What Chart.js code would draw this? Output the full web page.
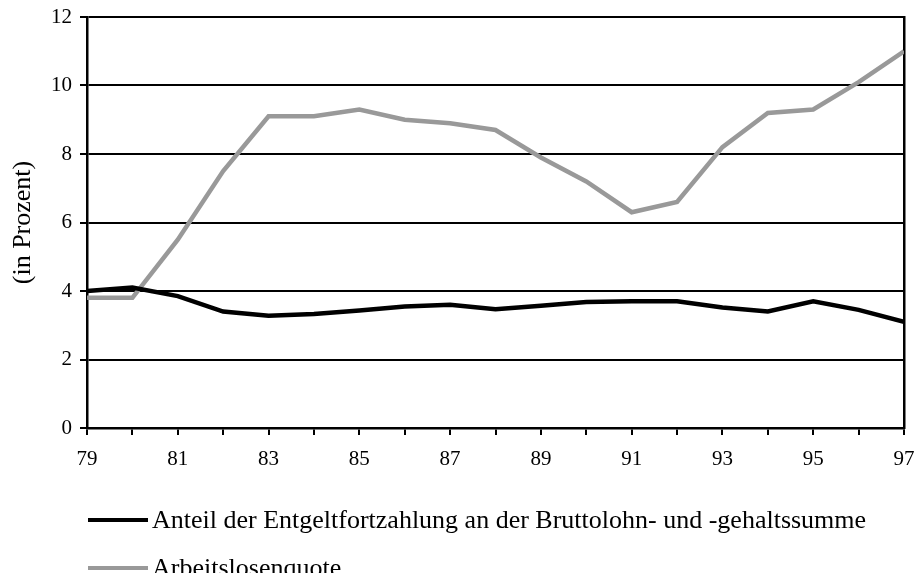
<!DOCTYPE html>
<html>
<head>
<meta charset="utf-8">
<script src="https://cdn.jsdelivr.net/npm/chart.js@4/dist/chart.umd.min.js"></script>
<style>
  html, body { margin: 0; padding: 0; background: #fff; overflow: hidden; }
  #wrap { position: relative; width: 917px; height: 573px; overflow: hidden; }
  #legend { position: absolute; left: 88px; top: 496px; font-family: "Liberation Serif", serif; font-size: 26px; color: #000; }
  .item { display: flex; align-items: center; height: 48px; }
  .swatch { width: 60px; height: 4.5px; margin-right: 4px; }
</style>
</head>
<body>
<div id="wrap">
  <canvas id="chart" width="917" height="573"></canvas>
  <div id="legend"></div>
</div>
<script>
  const years = [79, 80, 81, 82, 83, 84, 85, 86, 87, 88, 89, 90, 91, 92, 93, 94, 95, 96, 97];
  const entgelt = [4.0, 4.1, 3.85, 3.4, 3.28, 3.33, 3.43, 3.55, 3.6, 3.47, 3.57, 3.68, 3.7, 3.7, 3.52, 3.4, 3.7, 3.45, 3.1];
  const arbeitslos = [3.8, 3.8, 5.5, 7.5, 9.1, 9.1, 9.3, 9.0, 8.9, 8.7, 7.9, 7.2, 6.3, 6.6, 8.2, 9.2, 9.3, 10.1, 11.0];
  const seriesNames = ["Anteil der Entgeltfortzahlung an der Bruttolohn- und -gehaltssumme", "Arbeitslosenquote"];
  const seriesColors = ["#000000", "#999999"];
  const yTitle = "(in Prozent)";

  const font = "Liberation Serif";

  const toPoints = (vals) => years.map((y, i) => ({ x: y, y: vals[i] }));

  // keep the plot box where the original has it, labels may hang over
  const noOverhang = (s) => {
    s.paddingLeft = 0;
    s.paddingRight = 0;
    s.paddingTop = 0;
    s.paddingBottom = 0;
  };

  const ctx = document.getElementById("chart").getContext("2d");
  new Chart(ctx, {
    type: "line",
    data: {
      datasets: [
        { label: seriesNames[0], data: toPoints(entgelt), borderColor: seriesColors[0], borderWidth: 4.5, pointRadius: 0, tension: 0 },
        { label: seriesNames[1], data: toPoints(arbeitslos), borderColor: seriesColors[1], borderWidth: 4.5, pointRadius: 0, tension: 0 },
      ],
    },
    options: {
      responsive: false,
      animation: false,
      layout: { padding: { top: 17, bottom: 100, left: 0, right: 0 } },
      plugins: { legend: { display: false }, tooltip: { enabled: false } },
      scales: {
        x: {
          type: "linear",
          min: 79,
          max: 97,
          afterFit: (s) => { s.height = 45; noOverhang(s); },
          ticks: {
            stepSize: 1,
            autoSkip: false,
            maxRotation: 0,
            color: "#000",
            font: { family: font, size: 21 },
            padding: 12,
            callback: (v) => (v % 2 === 1 ? String(v) : ""),
          },
          grid: { drawOnChartArea: false, color: "#000", lineWidth: 2, tickLength: 7 },
          border: { color: "#000", width: 2.5 },
        },
        y: {
          min: 0,
          max: 12,
          afterFit: (s) => { s.width = 87; noOverhang(s); },
          ticks: { stepSize: 2, color: "#000", font: { family: font, size: 21 }, padding: 8 },
          grid: { color: "#000", lineWidth: 2, tickLength: 7 },
          border: { color: "#000", width: 2.5 },
          title: { display: true, text: yTitle, color: "#000", font: { family: font, size: 26 }, padding: { top: 8, bottom: 0 } },
        },
        yRight: {
          position: "right",
          min: 0,
          max: 12,
          afterFit: (s) => { s.width = 13; noOverhang(s); },
          ticks: { display: false },
          grid: { display: false },
          border: { color: "#000", width: 2.5 },
        },
      },
    },
  });

  const legend = document.getElementById("legend");
  seriesNames.forEach((name, i) => {
    const row = document.createElement("div");
    row.className = "item";
    const sw = document.createElement("div");
    sw.className = "swatch";
    sw.style.background = seriesColors[i];
    const label = document.createElement("span");
    label.textContent = name;
    row.appendChild(sw);
    row.appendChild(label);
    legend.appendChild(row);
  });
</script>
</body>
</html>
